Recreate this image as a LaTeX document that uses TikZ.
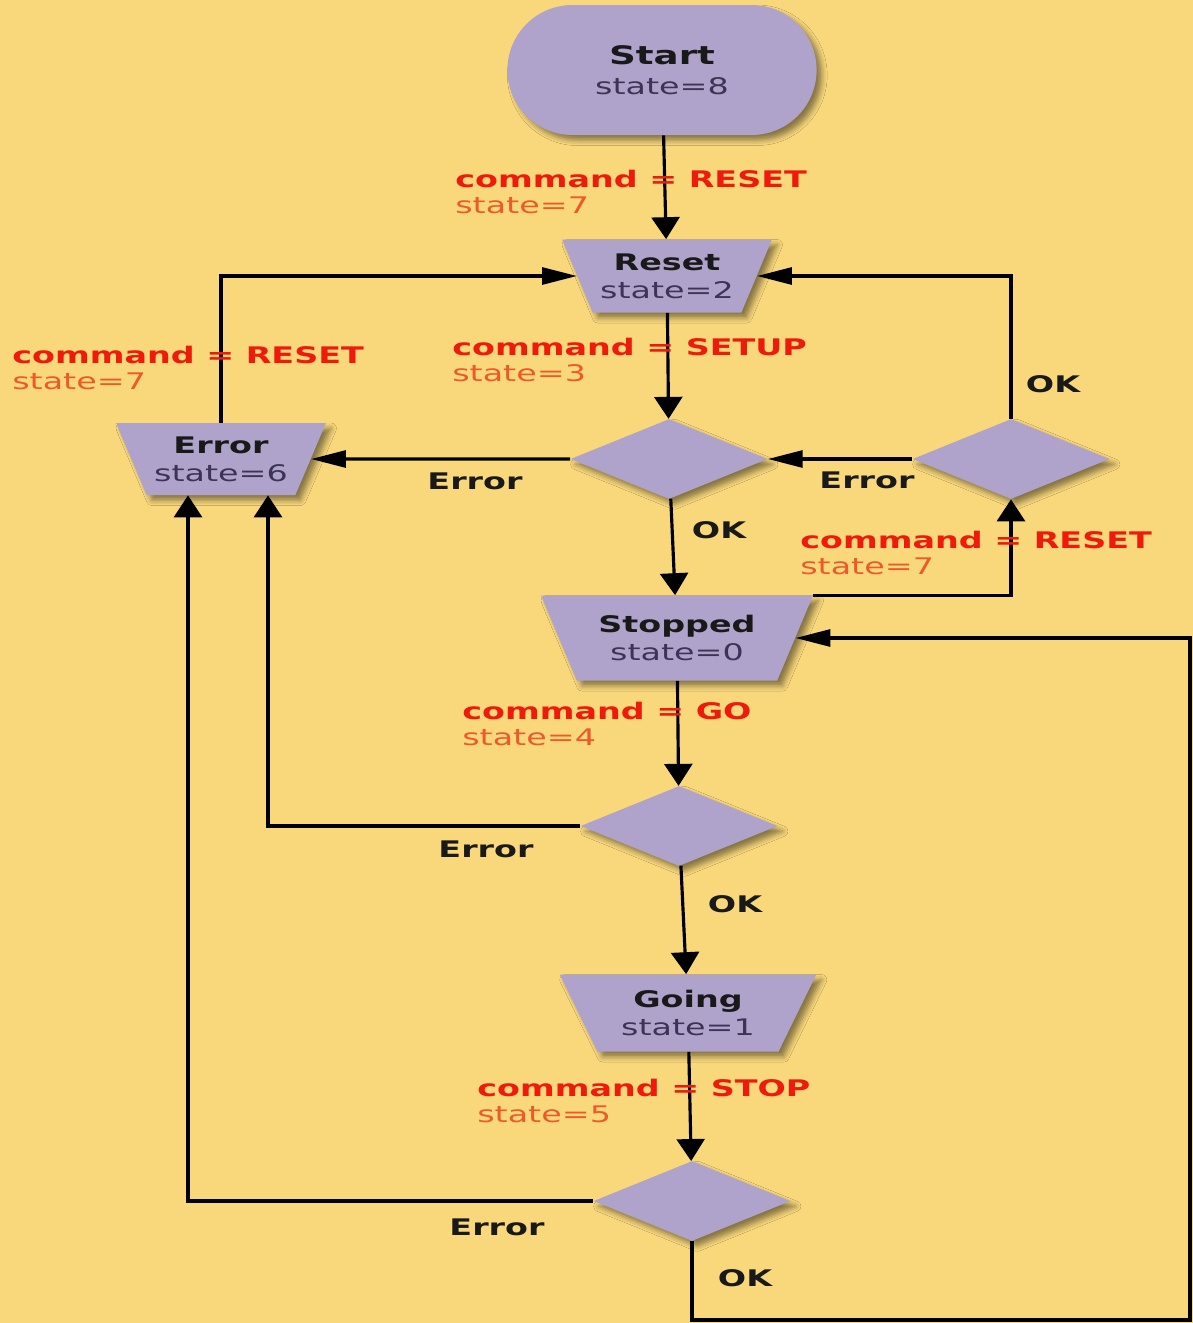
\documentclass[tikz,border=0pt]{standalone}
\usepackage{fontspec}
\setmainfont{DejaVu Sans}[FakeStretch=1.46]
\usetikzlibrary{shapes.geometric, shapes.misc, arrows.meta, shadows.blur}
\definecolor{flowbg}{HTML}{F9D87C}
\definecolor{flowlilac}{HTML}{B0A3CB}
\definecolor{cmdred}{HTML}{EE1A0C}
\definecolor{stateorange}{HTML}{EC5A2C}
\definecolor{statedark}{HTML}{3C3356}

\begin{document}
\begin{tikzpicture}[x=0.02cm, y=-0.02cm,
  softshadow/.style={blur shadow={shadow xshift=3pt, shadow yshift=-3pt, shadow blur radius=3pt, shadow opacity=45}},
  startbox/.style={rounded rectangle, fill=flowlilac, minimum width=6.42cm, minimum height=2.6cm, align=center, text=black!90, font=\fontsize{13}{17}\selectfont, softshadow},
  statebox/.style={trapezium, trapezium angle=119, trapezium stretches=true, fill=flowlilac, inner sep=2pt, align=center, text=black!90, font=\fontsize{13}{16}\selectfont, softshadow},
  choice/.style={diamond, fill=flowlilac, inner sep=0pt, minimum width=3.94cm, minimum height=1.6cm, softshadow},
  cmd/.style={anchor=north west, inner sep=0pt, align=left, text=cmdred, font=\fontsize{13}{14.6}\selectfont\bfseries},
  result/.style={inner sep=0pt, text=black!90, font=\fontsize{13}{14}\selectfont\bfseries},
  flow/.style={line width=1.8pt, -{Triangle[length=12.5pt, width=15.9pt]}},
  flowh/.style={line width=1.8pt, -{Triangle[length=19.8pt, width=9.6pt]}}]
\useasboundingbox (0,0) rectangle (1193,1323);
\fill[flowbg] (0,0) rectangle (1193,1323);
% states and checks
\node[startbox] (start) at (662,70) {{\fontsize{14.5}{17}\selectfont\bfseries Start}\\\textcolor{statedark}{state=8}};
\node[statebox, minimum width=4.2cm, minimum height=1.46cm] (reset) at (667,276) {\textbf{Reset}\\\textcolor{statedark}{state=2}};
\node[choice] (chk1) at (669,459) {};
\node[choice] (chk2) at (1011,459) {};
\node[statebox, minimum width=4.2cm, minimum height=1.44cm] (err) at (221,459) {\textbf{Error}\\\textcolor{statedark}{state=6}};
\node[statebox, minimum width=5.44cm, minimum height=1.7cm] (stopped) at (677,638) {\textbf{Stopped}\\\textcolor{statedark}{state=0}};
\node[choice] (chk3) at (679,826) {};
\node[statebox, minimum width=5.14cm, minimum height=1.54cm] (going) at (688,1013) {\textbf{Going}\\\textcolor{statedark}{state=1}};
\node[choice] (chk4) at (692,1201) {};
\coordinate (loopcorner) at (1190,1320);

% transitions
\draw[flow] (start) -- (reset);
\draw[flow] (reset) -- (chk1);
\draw[flowh] (chk1) -- (err);
\draw[flow] (chk1) -- (stopped);
\draw[flowh] (chk2) -- (chk1);
\draw[flowh] (chk2) |- (reset);
\draw[flowh] (err) |- (reset);
\draw[flow] (stopped.top right corner) -| (chk2);
\draw[flow] (stopped) -- (chk3);
\draw[flow] (chk3) -| ([xshift=0.94cm]err.south);
\draw[flow] (chk3) -- (going);
\draw[flow] (going) -- (chk4);
\draw[flow] (chk4) -| ([xshift=-0.66cm]err.south);
\draw[flowh] (chk4) |- (loopcorner) |- (stopped);

% labels
\node[cmd] (cmdstart) at (455,170) {command = RESET\\\textcolor{stateorange}{\mdseries state=7}};
\node[cmd] (cmdsetup) at (452,338) {command = SETUP\\\textcolor{stateorange}{\mdseries state=3}};
\node[cmd] (cmderr) at (12,346) {command = RESET\\\textcolor{stateorange}{\mdseries state=7}};
\node[cmd] (cmdstop) at (800,531) {command = RESET\\\textcolor{stateorange}{\mdseries state=7}};
\node[cmd] (cmdgo) at (462,702) {command = GO\\\textcolor{stateorange}{\mdseries state=4}};
\node[cmd] (cmdhalt) at (477,1079) {command = STOP\\\textcolor{stateorange}{\mdseries state=5}};
\node[result] (e1) at (475,481) {Error};
\node[result] (e2) at (867,480) {Error};
\node[result] (e3) at (486,849) {Error};
\node[result] (e4) at (497,1227) {Error};
\node[result] (ok1) at (719,530) {OK};
\node[result] (ok2) at (1053,384) {OK};
\node[result] (ok3) at (735,904) {OK};
\node[result] (ok4) at (745,1278) {OK};
\end{tikzpicture}
\end{document}
